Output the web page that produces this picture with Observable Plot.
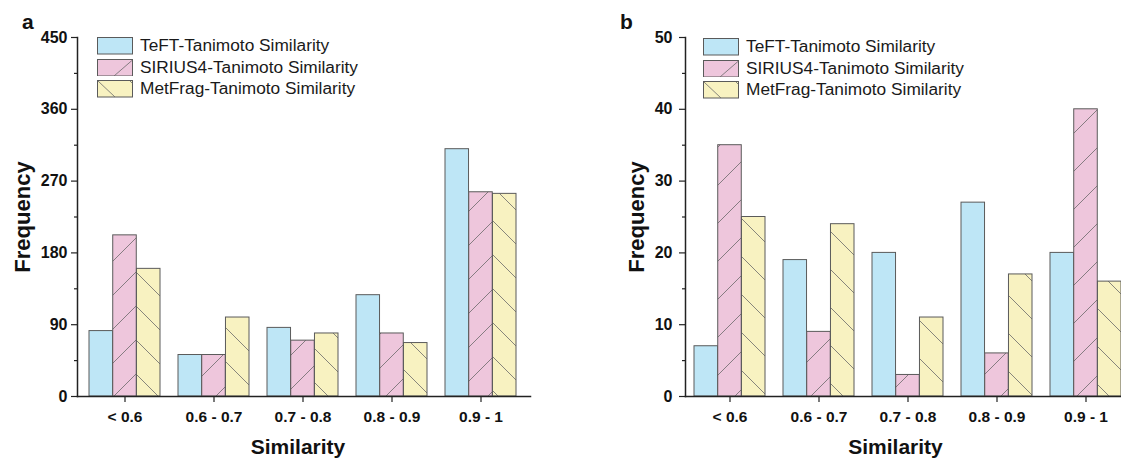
<!DOCTYPE html>
<html><head><meta charset="utf-8">
<script src="https://cdn.jsdelivr.net/npm/d3@7"></script>
<script src="https://cdn.jsdelivr.net/npm/@observablehq/plot@0.6"></script>
<style>
html,body{margin:0;padding:0;background:#fff;}
body{width:1121px;height:461px;overflow:hidden;position:relative;font-family:"Liberation Sans",Arial,sans-serif;color:#111;}
.panel{position:absolute;top:0;}
.tag{position:absolute;font-weight:bold;font-size:21px;line-height:1;}
.legend{position:absolute;font-size:17.3px;color:#1a1a1a;}
.legend .row{display:flex;align-items:center;height:21.6px;white-space:nowrap;}
.legend svg{margin-right:7px;flex:none;}
g[aria-label="y-axis tick label"]{font-weight:bold;font-size:16px;}
g[aria-label="x-axis tick label"]{font-weight:bold;font-size:15.5px;}
</style></head><body>
<script>
// ---- data ----
const categories = ["< 0.6", "0.6 - 0.7", "0.7 - 0.8", "0.8 - 0.9", "0.9 - 1"];
const seriesNames = ["TeFT-Tanimoto Similarity", "SIRIUS4-Tanimoto Similarity", "MetFrag-Tanimoto Similarity"];
const aTeFT    = [82, 52, 86, 127, 310];
const aSIRIUS  = [202, 52, 70, 79, 256];
const aMetFrag = [160, 99, 79, 67, 254];
const bTeFT    = [7, 19, 20, 27, 20];
const bSIRIUS  = [35, 9, 3, 6, 40];
const bMetFrag = [25, 24, 11, 17, 16];
const aTicks = [0, 90, 180, 270, 360, 450];
const aMinor = [45, 135, 225, 315, 405];
const bTicks = [0, 10, 20, 30, 40, 50];
const bMinor = [5, 15, 25, 35, 45];
const panelTags = ["a", "b"];
const yLabel = "Frequency";
const xLabel = "Similarity";

// ---- style ----
const BLUE = "#BEE6F6", PINK = "#EEC6DC", YELLOW = "#F8F2C1", EDGE = "#5a5a5a", HATCH = "#6a6a6a", AXIS = "#222";

function makePanel(cfg) {
  const rows = [];
  cfg.values.forEach((vals, s) => vals.forEach((v, i) =>
    rows.push({category: categories[i], series: seriesNames[s], value: v})));
  const fills = [BLUE, `url(#${cfg.id}-pink)`, `url(#${cfg.id}-yellow)`];
  const step = (cfg.xRange[1] - cfg.xRange[0]) / categories.length;
  const w = step * 0.8 / 3;
  const bars = seriesNames.map((name, s) => Plot.barY(rows.filter(d => d.series === name), {
    x: "category", y: "value", fill: fills[s], stroke: EDGE, strokeWidth: 1,
    insetLeft: s * w, insetRight: (2 - s) * w
  }));
  const svg = Plot.plot({
    width: cfg.width, height: 461,
    marginLeft: cfg.marginLeft, marginRight: cfg.marginRight, marginTop: 37, marginBottom: 65,
    style: {fontFamily: '"Liberation Sans", Arial, sans-serif', color: "#111", background: "white", overflow: "hidden"},
    x: {type: "band", domain: categories, range: cfg.xRange, paddingInner: 0.2, paddingOuter: 0.1, label: null},
    y: {domain: [0, cfg.yTicks[cfg.yTicks.length - 1]], label: null},
    marks: [
      ...bars,
      Plot.axisY({ticks: cfg.yMinor, tickSize: 3, tickFormat: () => "", label: null, stroke: AXIS, strokeWidth: 1.2}),
      Plot.axisY({ticks: cfg.yTicks, tickSize: 6, tickPadding: cfg.tickPad, label: null, stroke: AXIS, strokeWidth: 1.2,
        fontSize: 16, fontWeight: "bold"}),
      Plot.axisX({tickSize: 6, tickPadding: 8, label: null, stroke: AXIS, strokeWidth: 1.2, fontSize: 15.5, fontWeight: "bold"}),
      Plot.frame({anchor: "left", stroke: AXIS, strokeWidth: 1.5}),
      Plot.frame({anchor: "bottom", stroke: AXIS, strokeWidth: 1.5}),
      Plot.text([yLabel], {text: d => d, frameAnchor: "left", dx: cfg.yLabelDx, rotate: -90, lineAnchor: "top",
        textAnchor: "middle", fontSize: 22, fontWeight: "bold", fill: "#111"}),
      Plot.text([xLabel], {text: d => d, frameAnchor: "bottom", dx: cfg.xLabelDx, dy: 43, lineAnchor: "top",
        textAnchor: "middle", fontSize: 21, fontWeight: "bold", fill: "#111"})
    ]
  });
  const p = cfg.hatch;
  svg.insertAdjacentHTML("afterbegin", `<defs>
    <pattern id="${cfg.id}-pink" patternUnits="userSpaceOnUse" width="${p}" height="${p}">
      <rect width="${p}" height="${p}" fill="${PINK}"/>
      <path d="M0,${p} L${p},0 M-4,4 L4,-4 M${p-4},${p+4} L${p+4},${p-4}" stroke="${HATCH}" stroke-width="0.8"/>
    </pattern>
    <pattern id="${cfg.id}-yellow" patternUnits="userSpaceOnUse" width="${p}" height="${p}">
      <rect width="${p}" height="${p}" fill="${YELLOW}"/>
      <path d="M0,0 L${p},${p} M-4,${p-4} L4,${p+4} M${p-4},-4 L${p+4},4" stroke="${HATCH}" stroke-width="0.8"/>
    </pattern></defs>`);
  svg.classList.add("panel");
  svg.style.left = cfg.left + "px";
  document.body.appendChild(svg);

  // tag
  const tag = document.createElement("div");
  tag.className = "tag";
  tag.textContent = cfg.tag;
  tag.style.left = cfg.tagX + "px";
  tag.style.top = "11px";
  document.body.appendChild(tag);

  // legend
  const lg = document.createElement("div");
  lg.className = "legend";
  lg.style.left = cfg.legX + "px";
  lg.style.top = cfg.legY + "px";
  const sw = [
    `<rect x="0.5" y="0.5" width="35" height="16.5" fill="${BLUE}" stroke="${EDGE}"/>`,
    `<rect x="0.5" y="0.5" width="35" height="16.5" fill="${PINK}" stroke="${EDGE}"/><path d="M17,17 L35.5,1" stroke="${HATCH}" stroke-width="0.8"/>`,
    `<rect x="0.5" y="0.5" width="35" height="16.5" fill="${YELLOW}" stroke="${EDGE}"/><path d="M1,1 L18,17 M33,1 L35.5,3.5" stroke="${HATCH}" stroke-width="0.8"/>`
  ];
  seriesNames.forEach((name, s) => {
    const r = document.createElement("div");
    r.className = "row";
    r.innerHTML = `<svg width="36" height="17.5">${sw[s]}</svg><span></span>`;
    r.querySelector("span").textContent = name;
    lg.appendChild(r);
  });
  document.body.appendChild(lg);
}

makePanel({id: "pa", tag: panelTags[0], tagX: 22, left: 0, width: 560, marginLeft: 77, marginRight: 30,
  xRange: [80.5, 525.5], yTicks: aTicks, yMinor: aMinor, values: [aTeFT, aSIRIUS, aMetFrag],
  hatch: 34, tickPad: 4, yLabelDx: -63, xLabelDx: -6, legX: 97, legY: 35});

makePanel({id: "pb", tag: panelTags[1], tagX: 620, left: 561, width: 560, marginLeft: 124, marginRight: 0,
  xRange: [124.5, 569.5], yTicks: bTicks, yMinor: bMinor, values: [bTeFT, bSIRIUS, bMetFrag],
  hatch: 38, tickPad: 7, yLabelDx: -57, xLabelDx: -8, legX: 703, legY: 36});
</script>
</body></html>
